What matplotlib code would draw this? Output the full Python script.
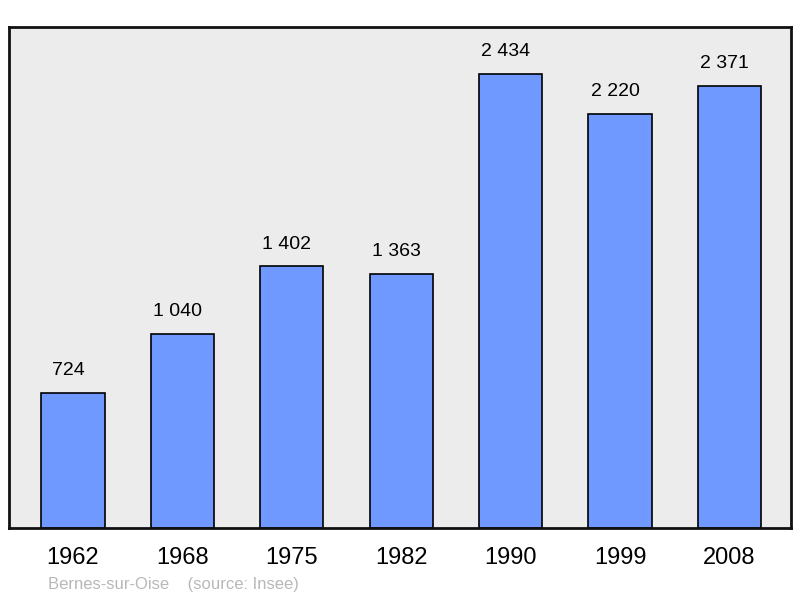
import matplotlib.pyplot as plt

years = ["1962", "1968", "1975", "1982", "1990", "1999", "2008"]
population = [724, 1040, 1402, 1363, 2434, 2220, 2371]
value_labels = ["724", "1 040", "1 402", "1 363", "2 434", "2 220", "2 371"]
town = "Bernes-sur-Oise"
source = "(source: Insee)"

plt.rcParams["font.family"] = ["Liberation Sans", "DejaVu Sans"]

fig = plt.figure(figsize=(8, 5.98), dpi=100)
ax = fig.add_axes([9 / 800, 1 - 528 / 598, 782 / 800, 501 / 598])
ax.set_facecolor("#ececec")

x = list(range(len(years)))
ax.bar(x, population, width=0.577, color="#7099ff",
       edgecolor="black", linewidth=1.2, zorder=2)

# labels sit a little left of the bar centre in the original
for xi, val, lab in zip(x, population, value_labels):
    ax.annotate(lab, (xi, val), xytext=(-3.5, 10), textcoords="offset points",
                ha="center", va="bottom", fontsize=14)

ax.set_xlim(-0.585, len(years) - 1 + 0.563)
ax.set_ylim(0, 2686)
ax.set_xticks(x)
ax.set_xticklabels(years, fontsize=17)
ax.tick_params(axis="x", length=0, pad=14)
ax.set_yticks([])
for s in ax.spines.values():
    s.set_linewidth(2)
    s.set_color("#111111")

fig.text(48 / 800, 1 - 584 / 598, town + "    " + source, color="#b8b8b8",
         fontsize=12, ha="left", va="center")

fig.savefig("out.png", dpi=100)
